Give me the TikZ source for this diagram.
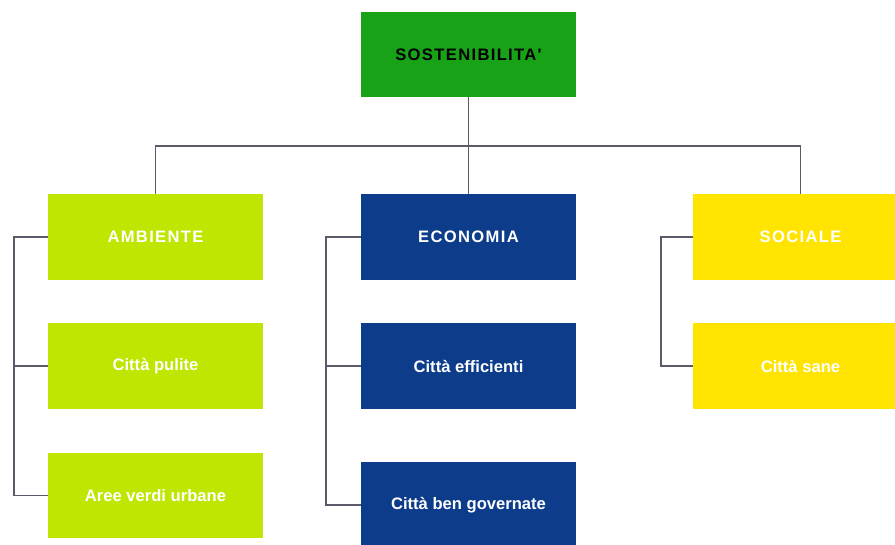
\documentclass[tikz,border=0pt]{standalone}
\usepackage{fontspec}
\setmainfont{Liberation Sans}
\newfontfamily\capsfont[LetterSpace=8]{Liberation Sans}
\definecolor{topgreen}{HTML}{18A218}
\definecolor{lime}{HTML}{BEE600}
\definecolor{navy}{HTML}{0C3C8A}
\definecolor{sunyellow}{HTML}{FFE400}
\definecolor{wire}{HTML}{5A5A68}
\begin{document}
\begin{tikzpicture}[x=1pt,y=-1pt,
  box/.style={rectangle,minimum width=215pt,minimum height=86pt,inner sep=0pt,font=\fontsize{16.6}{18}\selectfont\bfseries},
  capbox/.style={box,font=\fontsize{16.6}{18}\selectfont\capsfont\bfseries},
  greenbox/.style={box,fill=lime,text=white},
  bluebox/.style={box,fill=navy,text=white},
  yellowbox/.style={box,fill=sunyellow,text=white},
  wireline/.style={draw=wire,line width=1.5pt}]
\clip (0,0) rectangle (895,544);
\fill[white] (0,0) rectangle (895,544);
\node[capbox,fill=topgreen,text=black,minimum height=85pt] (top) at (468.5,54.5) {SOSTENIBILITA'};
\node[greenbox,capbox] (amb) at (155.5,237) {AMBIENTE};
\node[bluebox,capbox] (eco) at (468.5,237) {ECONOMIA};
\node[yellowbox,capbox] (soc) at (800.5,237) {SOCIALE};
\node[greenbox] (pul) at (155.5,366) {Città pulite};
\node[bluebox] (eff) at (468.5,366) {Città efficienti};
\node[yellowbox] (sane) at (800.5,366) {Città sane};
\node[greenbox,minimum height=85pt] (aree) at (155.5,495.5) {Aree verdi urbane};
\node[bluebox] (gov) at (468.5,505) {Città ben governate};
\coordinate (bus) at (468.5,146);
\draw[wireline] (top.south) -- (bus);
\draw[wireline] (amb.north) |- (bus) -| (soc.north);
\draw[wireline] (bus) -- (eco.north);
\coordinate (lb) at (14,237);
\coordinate (mb) at (326,237);
\coordinate (rb) at (661,237);
\draw[wireline] (amb.west) -- (lb) |- (aree.west);
\draw[wireline] (pul.west) -- (pul.west -| lb);
\draw[wireline] (eco.west) -- (mb) |- (gov.west);
\draw[wireline] (eff.west) -- (eff.west -| mb);
\draw[wireline] (soc.west) -- (rb) |- (sane.west);
\end{tikzpicture}
\end{document}
